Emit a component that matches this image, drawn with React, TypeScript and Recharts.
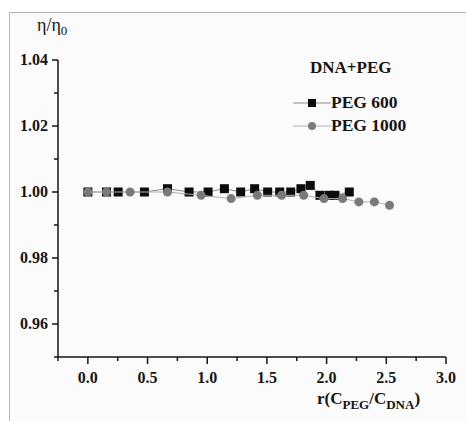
import { ScatterChart, Scatter, XAxis, YAxis, Legend } from 'recharts';

// PEG 600 (black squares)
const peg600X = [0, 0.156, 0.254, 0.474, 0.667, 0.848, 1.007, 1.144, 1.28, 1.397, 1.506, 1.607, 1.699, 1.785, 1.863, 1.944, 2.02, 2.07, 2.19];
const peg600Y = [1.0, 1.0, 1.0, 1.0, 1.001, 1.0, 1.0, 1.001, 1.0, 1.001, 1.0, 1.0, 1.0, 1.001, 1.002, 0.999, 0.999, 0.999, 1.0];

// PEG 1000 (grey circles)
const peg1000X = [0, 0.156, 0.354, 0.667, 0.949, 1.2, 1.42, 1.623, 1.808, 1.978, 2.134, 2.27, 2.4, 2.527];
const peg1000Y = [1.0, 1.0, 1.0, 1.0, 0.999, 0.998, 0.999, 0.999, 0.999, 0.998, 0.998, 0.997, 0.997, 0.996];

const xMajorTicks = [0, 0.5, 1.0, 1.5, 2.0, 2.5, 3.0];
const xMinorTicks = [-0.25, 0.25, 0.75, 1.25, 1.75, 2.25, 2.75];
const yMajorTicks = [0.96, 0.98, 1.0, 1.02, 1.04];
const yMinorTicks = [0.95, 0.97, 0.99, 1.01, 1.03];

const peg600 = peg600X.map((x, i) => ({ x, y: peg600Y[i] }));
const peg1000 = peg1000X.map((x, i) => ({ x, y: peg1000Y[i] }));

const FONT = '"Liberation Serif", "Times New Roman", serif';
const INK = '#141414';

const isMajor = (v: number, list: number[]) => list.some((t) => Math.abs(t - v) < 1e-6);

const XTick = (props: any) => {
  const { x, y, payload } = props;
  const major = isMajor(payload.value, xMajorTicks);
  return (
    <g>
      <line x1={x} x2={x} y1={y} y2={y + (major ? 7 : 4)} stroke={INK} strokeWidth={1.5} />
      {major && (
        <text x={x} y={y + 26} textAnchor="middle" fontFamily={FONT} fontWeight="bold" fontSize={16} fill={INK}>
          {Number(payload.value).toFixed(1)}
        </text>
      )}
    </g>
  );
};

const YTick = (props: any) => {
  const { x, y, payload } = props;
  const major = isMajor(payload.value, yMajorTicks);
  return (
    <g>
      <line x1={x} x2={x - (major ? 6 : 4)} y1={y} y2={y} stroke={INK} strokeWidth={1.5} />
      {major && (
        <text x={x - 10} y={y + 5} textAnchor="end" fontFamily={FONT} fontWeight="bold" fontSize={16} fill={INK}>
          {Number(payload.value).toFixed(2)}
        </text>
      )}
    </g>
  );
};

const Square = (props: any) => (
  <rect x={props.cx - 4.5} y={props.cy - 4.5} width={9} height={9} fill="#0c0c0c" />
);
const Dot = (props: any) => <circle cx={props.cx} cy={props.cy} r={4.5} fill="#7a7a7a" />;

const LegendBox = () => (
  <div style={{ fontFamily: FONT, fontWeight: 'bold', color: INK }}>
    <div style={{ fontSize: 17, marginLeft: 17, marginBottom: 13 }}>DNA+PEG</div>
    {[
      { name: 'PEG 600', line: '#8a8a8a', marker: <rect x={15} y={1} width={8} height={8} fill="#0c0c0c" /> },
      { name: 'PEG 1000', line: '#b0b0b0', marker: <circle cx={19} cy={5} r={4} fill="#7a7a7a" /> },
    ].map((e) => (
      <div key={e.name} style={{ display: 'flex', alignItems: 'center', height: 23, fontSize: 17.5 }}>
        <svg width={38} height={10} style={{ marginRight: 0 }}>
          <line x1={0} x2={38} y1={5} y2={5} stroke={e.line} strokeWidth={1} />
          {e.marker}
        </svg>
        {e.name}
      </div>
    ))}
  </div>
);

export default function App() {
  return (
    <div style={{ position: 'absolute', left: 0, top: 0, width: 466, height: 421, background: '#ffffff' }}>
      <div
        style={{
          position: 'absolute',
          left: 9,
          top: 12,
          right: 0,
          bottom: 0,
          background: '#fbfbfb',
          borderTop: '1px solid #b4b4b4',
          borderLeft: '1px solid #b4b4b4',
        }}
      />
      <div style={{ position: 'absolute', left: 0, top: 0 }}>
        <ScatterChart width={466} height={421} margin={{ top: 60, right: 20, bottom: 34, left: 8 }}>
          <XAxis
            type="number"
            dataKey="x"
            domain={[-0.25, 3]}
            ticks={[...xMinorTicks, ...xMajorTicks].sort((a, b) => a - b)}
            interval={0}
            height={30}
            tickSize={0}
            tickMargin={0}
            tickLine={false}
            axisLine={{ stroke: INK, strokeWidth: 1.5 }}
            tick={(p: any) => <XTick {...p} />}
            allowDataOverflow
            label={{
              content: () => (
                <text x={317} y={404} fontFamily={FONT} fontWeight="bold" fontSize={17} fill={INK}>
                  r(C
                  <tspan dy={5} fontSize={13}>PEG</tspan>
                  <tspan dy={-5}>/C</tspan>
                  <tspan dy={5} fontSize={13}>DNA</tspan>
                  <tspan dy={-5}>)</tspan>
                </text>
              ),
            }}
          />
          <YAxis
            type="number"
            dataKey="y"
            domain={[0.95, 1.04]}
            ticks={[...yMinorTicks, ...yMajorTicks].sort((a, b) => a - b)}
            interval={0}
            width={50}
            tickSize={0}
            tickMargin={0}
            tickLine={false}
            axisLine={{ stroke: INK, strokeWidth: 1.5 }}
            tick={(p: any) => <YTick {...p} />}
            allowDataOverflow
            label={{
              content: () => (
                <text x={37} y={31} fontFamily={FONT} fontSize={18} fill={INK}>
                  η/η
                  <tspan dy={4} fontSize={13}>0</tspan>
                </text>
              ),
            }}
          />
          <Legend
            layout="vertical"
            align="center"
            verticalAlign="middle"
            wrapperStyle={{ position: 'absolute', left: 293, top: 58, width: 160 }}
            content={() => <LegendBox />}
          />
          <Scatter
            name="PEG 600"
            data={peg600}
            line={{ stroke: '#8a8a8a', strokeWidth: 1 }}
            shape={(p: any) => <Square {...p} />}
            isAnimationActive={false}
          />
          <Scatter
            name="PEG 1000"
            data={peg1000}
            line={{ stroke: '#b0b0b0', strokeWidth: 1 }}
            shape={(p: any) => <Dot {...p} />}
            isAnimationActive={false}
          />
        </ScatterChart>
      </div>
    </div>
  );
}
